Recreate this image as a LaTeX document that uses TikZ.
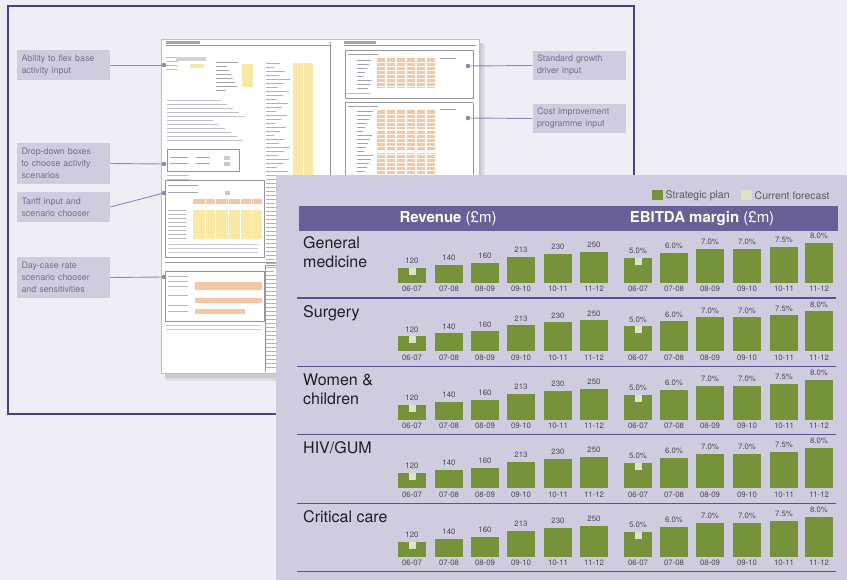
\documentclass[tikz,border=0pt]{standalone}
\usepackage{fontspec}
\setmainfont{TeX Gyre Heros}
\definecolor{pagebg}{HTML}{EEEEF4}
\definecolor{framec}{HTML}{47457C}
\definecolor{lblfill}{HTML}{CFCCE0}
\definecolor{lbltext}{HTML}{72728A}
\definecolor{connc}{HTML}{8C88BA}
\definecolor{panelc}{HTML}{D0CCE0}
\definecolor{headc}{HTML}{6A6098}
\definecolor{barc}{HTML}{76933C}
\definecolor{fcastc}{HTML}{DDE3CA}
\definecolor{rulec}{HTML}{5A548E}
\definecolor{smalltext}{HTML}{48484F}
\definecolor{rowink}{HTML}{1E1E24}
\definecolor{legtext}{HTML}{5A5A66}
\definecolor{cellor}{HTML}{F4C7A0}
\definecolor{cellye}{HTML}{F8EAA6}
\definecolor{inkc}{HTML}{A4A4AE}
\definecolor{shadowc}{HTML}{CACAD3}
\begin{document}
\begin{tikzpicture}[x=1pt,y=-1pt,
  notebox/.style={fill=lblfill, text=lbltext,
    font=\fontsize{8.9}{12}\selectfont,
    execute at begin node={\hyphenpenalty=10000\relax\exhyphenpenalty=10000\relax},
    align=left, text width=84pt, inner xsep=4.5pt, inner ysep=2pt},
  dotmark/.style={circle, fill=connc, inner sep=0pt, minimum size=4.6pt},
  leader/.style={draw=connc, line width=0.9pt},
  barfill/.style={fill=barc},
  fcast/.style={fill=fcastc},
  valtext/.style={font=\fontsize{7.8}{9}\selectfont, text=smalltext, inner sep=0pt, anchor=base},
  rowtitle/.style={font=\fontsize{16}{19}\selectfont, text=rowink, align=left,
    anchor=north west, inner sep=0pt},
  ink/.style={draw=inkc, line width=1pt},
  boxline/.style={draw=inkc!90!black, line width=1pt},
  headtext/.style={font=\fontsize{15}{18}\selectfont, text=white, inner sep=0pt},
  legtxt/.style={font=\fontsize{10.5}{12}\selectfont, text=legtext, anchor=west, inner sep=0pt}
]
\useasboundingbox (0,0) rectangle (847,580);
\fill[pagebg] (0,0) rectangle (847,580);
\draw[framec, line width=1.3pt] (8,6) rectangle (634,414);

% ---------- spreadsheet thumbnail ----------
\fill[shadowc, opacity=0.5] (166,44) rectangle (485,381);
\fill[shadowc] (165,43) rectangle (482,378);
\fill[white] (161,39) rectangle (479,373);
\draw[inkc!70, line width=0.7pt] (161,39) rectangle (479,373);

% left page
\fill[inkc] (166,41) rectangle (200,44.5);
\draw[boxline] (166,46) -- (330,46);
\draw[boxline] (330,42) -- (330,262);
\foreach \yy in {58,62,66,70}{\draw[ink, opacity=0.7] (166,\yy) -- ++(12,0);}
\fill[inkc!50] (176,57) rectangle (206,61);
\fill[cellye] (190,64.5) rectangle (204,68.5);
\foreach \yy in {63,67,...,91}{\pgfmathsetmacro\len{10+mod(\yy*7,13)}\draw[ink] (216,\yy) -- ++(\len,0);}
\fill[cellye] (242,64) rectangle (253,87);
\foreach \yy in {101,105,...,141}{\pgfmathsetmacro\len{45+mod(\yy*11,38)}\draw[ink, opacity=0.7] (167,\yy) -- ++(\len,0);}
\foreach \yy in {64,68,...,370}{\pgfmathsetmacro\len{8+mod(\yy*7,17)}\draw[ink, opacity=0.85] (266,\yy) -- ++(\len,0);}
\fill[cellye] (293,63) rectangle (313,176);
\draw[white, line width=0.6pt] (303,63) -- (303,176);
% drop-down box
\draw[boxline] (167,150) rectangle (239,172);
\foreach \yy in {158,164}{\draw[ink] (170,\yy) -- ++(18,0); \draw[ink] (196,\yy) -- ++(14,0); \fill[inkc!60] (224,\yy-2) rectangle ++(6,4);}
\foreach \yy in {176,180}{\draw[ink, opacity=0.7] (167,\yy) -- ++(22,0);}
% tariff box
\draw[boxline] (165,181) rectangle (264,258);
\draw[ink] (168,186) -- ++(30,0);
\draw[ink] (168,193) -- ++(30,0); \fill[inkc!60] (225,191) rectangle ++(5,4);
\fill[cellor] (193,199) rectangle (262,204);
\fill[cellye] (193,210) rectangle (262,239);
\foreach \xx in {205,215,228,240,251}{\draw[white, line width=0.6pt] (\xx,199) -- (\xx,239);}
\foreach \yy in {211,215,...,239}{\draw[ink, opacity=0.8] (168,\yy) -- ++(18,0);}
\foreach \yy in {245,249,253}{\draw[ink, opacity=0.6] (168,\yy) -- ++(90,0);}
\draw[boxline] (165,263) -- (330,263);
% day-case box
\draw[boxline] (165,272) rectangle (264,322);
\foreach \yy in {277,282,287,296,306,312}{\draw[ink, opacity=0.8] (168,\yy) -- ++(20,0);}
\fill[cellor] (195,282) rectangle (262,290);
\fill[cellor] (195,298) rectangle (262,303);
\fill[cellor] (195,309) rectangle (245,314);
\foreach \yy in {326,330}{\draw[ink, opacity=0.6] (166,\yy) -- ++(95,0);}
\draw[boxline] (265,266) -- (265,372);
\draw[boxline] (265,266) -- (330,266);

% right page
\fill[inkc] (344,41) rectangle (376,44.5);
\draw[boxline] (344,46) -- (476,46);
\draw[boxline] (345,51) rectangle (473,99);
\draw[ink] (348,55) -- ++(30,0);
\foreach \yy in {61,65,...,89}{\pgfmathsetmacro\len{6+mod(\yy*5,11)}\draw[ink] (357,\yy) -- ++(\len,0);}
\foreach \k in {0,...,5}{\fill[cellor] (377+10*\k,58) rectangle ++(8,30);}
\foreach \yy in {62,66,...,86}{\draw[white, line width=0.4pt] (377,\yy) -- (437,\yy);}
\draw[ink] (440,59) -- ++(16,0);
\draw[ink, opacity=0.7] (345,94) -- ++(25,0);
\draw[boxline] (345,103) -- (473,103) (345,103) -- (345,373) (473,103) -- (473,373);
\draw[ink] (348,107) -- ++(30,0);
\foreach \yy in {112,116,...,176}{\pgfmathsetmacro\len{6+mod(\yy*5,11)}\draw[ink] (357,\yy) -- ++(\len,0);}
\foreach \k in {0,...,5}{\fill[cellor] (377+10*\k,110) rectangle ++(8,66);}
\foreach \yy in {114,118,...,174}{\draw[white, line width=0.4pt] (377,\yy) -- (437,\yy);}
\draw[white, line width=1.5pt] (377,130) -- (437,130) (377,152) -- (437,152);
\draw[ink] (440,110) -- ++(16,0);

% ---------- callouts ----------
\node[notebox, minimum height=30pt] (n1) at (63.5,65) {Ability to flex base activity input};
\node[notebox, minimum height=41pt] (n2) at (63.5,163.5) {Drop-down boxes to choose activity scenarios};
\node[notebox, minimum height=30pt] (n3) at (63.5,207) {Tariff input and scenario chooser};
\node[notebox, minimum height=41pt] (n4) at (63.5,277.5) {Day-case rate scenario chooser and sensitivities};
\node[notebox, minimum height=29pt] (n5) at (579,65.5) {Standard growth driver input};
\node[notebox, minimum height=29pt] (n6) at (579,118.5) {Cost improvement programme input};

\node[dotmark] (d1) at (164,65) {};
\node[dotmark] (d2) at (164,164) {};
\node[dotmark] (d3) at (164,193) {};
\node[dotmark] (d4) at (164,277) {};
\node[dotmark] (d5) at (468,66) {};
\node[dotmark] (d6) at (468,118) {};

\draw[leader] (n1.east) -- (d1);
\draw[leader] (n2.east) -- (d2);
\draw[leader] (n3.east) -- (d3);
\draw[leader] (n4.east) -- (d4);
\draw[leader] (d5) -- (n5.west);
\draw[leader] (d6) -- (n6.west);

% ---------- chart panel ----------
\fill[panelc] (276,175) rectangle (847,580);

% legend
\fill[barc] (652,190) rectangle (663,200);
\node[legtxt] (lg1) at (665.5,195.5) {Strategic plan};
\fill[fcastc] (741,190) rectangle (752,200);
\node[legtxt] (lg2) at (754.5,195.5) {Current forecast};

% header bar
\fill[headc] (299,206) rectangle (838,231);
\node[headtext] (h1) at (448,219) {\textbf{Revenue} (£m)};
\node[headtext] (h2) at (702,219) {\textbf{EBITDA margin} (£m)};

% row titles
\node[rowtitle] (t1) at (303,236.6) {General\\medicine};
\node[rowtitle] (t2) at (303,305.0) {Surgery};
\node[rowtitle] (t3) at (303,373.4) {Women \&\\children};
\node[rowtitle] (t4) at (303,441.8) {HIV/GUM};
\node[rowtitle] (t5) at (303,510.2) {Critical care};

% bars
\foreach \r in {0,...,4}{
  \pgfmathsetmacro\base{283+68.4*\r}
  \pgfmathsetmacro\rule{298+68.4*\r}
  \draw[rulec, line width=1.3pt] (297,\rule) -- (836,\rule);
  \foreach \cx/\h/\v/\yr [count=\i] in {412/15/120/06-07, 449/18/140/07-08, 485/20/160/08-09,
      521/26/213/09-10, 558/29/230/10-11, 594/31/250/11-12}{
    \fill[barfill] (\cx-14,\base) rectangle (\cx+14,\base-\h);
    \node[valtext] (rv\r-\i) at (\cx,\base-\h-4.3) {\v};
    \node[valtext] (ry\r-\i) at (\cx,\base+9) {\yr};
  }
  \fill[fcast] (408.5,\base-15) rectangle (415.5,\base-8);
  \foreach \cx/\h/\v/\yr [count=\i] in {638/25/5.0\%/06-07, 674/30/6.0\%/07-08, 710/34/7.0\%/08-09,
      747/34/7.0\%/09-10, 784/36/7.5\%/10-11, 819/40/8.0\%/11-12}{
    \fill[barfill] (\cx-14,\base) rectangle (\cx+14,\base-\h);
    \node[valtext] (ev\r-\i) at (\cx,\base-\h-4.3) {\v};
    \node[valtext] (ey\r-\i) at (\cx,\base+9) {\yr};
  }
  \fill[fcast] (634.5,\base-25) rectangle (641.5,\base-18);
}
\end{tikzpicture}
\end{document}
